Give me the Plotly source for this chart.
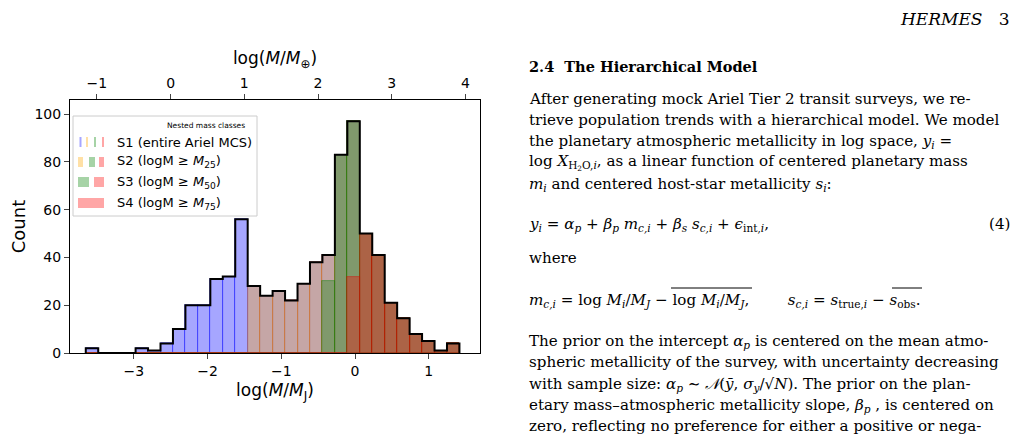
import plotly.graph_objects as go

# ---- data ----
x_start = -3.653
bin_w = 0.169
s1 = [2,0,0,0,2,1,4,10,20,20,31,32,56,28,24,26,22,29,38,41,83,97,50,41,21,14.5,8,5,1,4]
s2 = [0]*13 + [28,24,26,22,29,38,41,83,97,50,41,21,14.5,8,5,1,4]
s3 = [0]*19 + [30,83,97,50,41,21,14.5,8,5,1,4]
s4 = [0]*21 + [32,50,41,21,14.5,8,5,1,4]
MJ_ME = 2.502  # log10(M_J / M_earth)
x_ticks = [-3,-2,-1,0,1]
top_ticks = [-1,0,1,2,3,4]

n = len(s1)
centers = [x_start + bin_w*(i+0.5) for i in range(n)]
edges = [x_start + bin_w*i for i in range(n+1)]

W, H, OFF = 1011, 427, 8
def px(x): return (x-OFF)/W
def py(y): return 1-(y-OFF)/H

fig = go.Figure()
series = [(s1,'rgba(0,0,255,0.35)','rgba(0,0,255,0.5)'),
          (s2,'rgba(255,165,0,0.35)','rgba(255,140,0,0.5)'),
          (s3,'rgba(0,128,0,0.35)','rgba(0,128,0,0.5)'),
          (s4,'rgba(255,0,0,0.35)','rgba(220,0,0,0.5)')]
for vals, col, lc in series:
    fig.add_trace(go.Bar(x=centers, y=vals, width=bin_w, marker=dict(color=col, line=dict(color=lc, width=0.8)),
                         showlegend=False, hoverinfo='skip'))
sx, sy = [edges[0]], [0]
for i in range(n):
    sx += [edges[i], edges[i+1]]
    sy += [s1[i], s1[i]]
sx.append(edges[-1]); sy.append(0)
fig.add_trace(go.Scatter(x=sx, y=sy, mode='lines', line=dict(color='black', width=2), showlegend=False, hoverinfo='skip'))
fig.add_trace(go.Scatter(x=[0], y=[0], xaxis='x2', mode='markers', marker=dict(opacity=0), showlegend=False, hoverinfo='skip'))

xr = [-3.867, 1.696]
fig.update_layout(
    width=W, height=H, margin=dict(l=0,r=0,t=0,b=0),
    paper_bgcolor='white', plot_bgcolor='white', barmode='overlay', bargap=0,
    font=dict(family='DejaVu Sans', color='black'),
    xaxis=dict(domain=[px(70), px(480)], range=xr, tickvals=x_ticks, ticktext=['\u22123','\u22122','\u22121','0','1'], automargin=False,
               ticks='outside', ticklen=5, showgrid=False, zeroline=False, showline=True, linecolor='black', mirror=True,
               tickfont=dict(size=14),
               title=dict(text='log(<i>M</i>/<i>M</i><sub>J</sub>)', font=dict(size=17), standoff=6)),
    xaxis2=dict(overlaying='x', side='top', range=[xr[0]+MJ_ME, xr[1]+MJ_ME], tickvals=top_ticks, automargin=False,
                ticktext=['\u22121','0','1','2','3','4'], ticks='outside', ticklen=5, showgrid=False, zeroline=False,
                tickfont=dict(size=14), anchor='y',
                title=dict(text='log(<i>M</i>/<i>M</i><sub>\u2295</sub>)', font=dict(size=17), standoff=6)),
    yaxis=dict(domain=[py(353), py(100)], range=[0, 105.9], tickvals=[0,20,40,60,80,100], ticks='outside', ticklen=5,
               showgrid=False, zeroline=False, showline=True, linecolor='black', mirror=True, tickfont=dict(size=14),
               automargin=False, title=dict(text='Count', font=dict(size=18), standoff=4)),
)

shapes = [dict(type='rect', xref='paper', yref='paper', x0=px(73), x1=px(257), y0=py(216), y1=py(116),
               line=dict(color='#cccccc', width=1), fillcolor='rgba(255,255,255,0.85)', layer='above')]
lb = 'rgba(0,0,255,0.35)'; lo='rgba(255,165,0,0.35)'; lg='rgba(0,128,0,0.35)'; lr='rgba(255,0,0,0.35)'
patches = [(142, [(79.5,81.5,lb),(86,88,lo),(94,96,lg),(102,104,lr)]),
           (162, [(78,83,lo),(89,95,lg),(99,104,lr)]),
           (182, [(78,89,lg),(94,104,lr)]),
           (203, [(78,104,lr)])]
for yc, segs in patches:
    for x0, x1, c in segs:
        shapes.append(dict(type='rect', xref='paper', yref='paper', x0=px(x0), x1=px(x1), y0=py(yc+5), y1=py(yc-5),
                           line=dict(width=0), fillcolor=c, layer='above'))
# overlines in equation
for x0, x1 in [(671, 752), (892, 922)]:
    shapes.append(dict(type='line', xref='paper', yref='paper', x0=px(x0), x1=px(x1), y0=py(288), y1=py(288),
                       line=dict(color='black', width=1)))
labels = ['S1 (entire Ariel MCS)', 'S2 (logM \u2265 <i>M</i><sub>25</sub>)', 'S3 (logM \u2265 <i>M</i><sub>50</sub>)', 'S4 (logM \u2265 <i>M</i><sub>75</sub>)']
ann = [dict(x=px(165), y=py(125), xref='paper', yref='paper', text='Nested mass classes', showarrow=False,
            yanchor='middle', font=dict(size=7.5))]
for (yc, _), t in zip(patches, labels):
    ann.append(dict(x=px(115), y=py(yc), xref='paper', yref='paper', text=t, showarrow=False, xanchor='left',
                    yanchor='middle', font=dict(size=13)))

serif = 'DejaVu Serif'
def T(x, y, t, size=15.1, anchor='left', **kw):
    ann.append(dict(x=px(x), y=py(y), xref='paper', yref='paper', text=t, showarrow=False, xanchor=anchor, yanchor='middle',
                    font=dict(family=serif, size=size, color='black'), **kw))
T(1012, 19, '<i>HERMES</i>   3', size=17, anchor='right')
T(527, 67, '<b>2.4  The Hierarchical Model</b>', size=14.5)
lines = [(99,'After generating mock Ariel Tier 2 transit surveys, we re-'),
         (120,'trieve population trends with a hierarchical model. We model'),
         (141,'the planetary atmospheric metallicity in log space, <i>y<sub>i</sub></i> ='),
         (163,'log <i>X</i><sub>H<sub>2</sub>O,<i>i</i></sub>, as a linear function of centered planetary mass'),
         (184,'<i>m<sub>i</sub></i> and centered host-star metallicity <i>s<sub>i</sub></i>:'),
         (258,'where'),
         (341,'The prior on the intercept <i>\u03b1<sub>p</sub></i> is centered on the mean atmo-'),
         (362,'spheric metallicity of the survey, with uncertainty decreasing'),
         (384,'with sample size: <i>\u03b1<sub>p</sub></i> \u223c <i>\U0001d4a9</i>(<i>\u0233</i>, <i>\u03c3<sub>y</sub></i>/\u221a<i>N</i>). The prior on the plan-'),
         (405,'etary mass\u2013atmospheric metallicity slope, <i>\u03b2<sub>p</sub></i> , is centered on'),
         (426,'zero, reflecting no preference for either a positive or nega-')]
for y, t in lines:
    T(527, y, t)
T(527, 224, '<i>y<sub>i</sub></i> = <i>\u03b1<sub>p</sub></i> + <i>\u03b2<sub>p</sub> m<sub>c,i</sub></i> + <i>\u03b2<sub>s</sub> s<sub>c,i</sub></i> + <i>\u03f5</i><sub>int,<i>i</i></sub>,')
T(1012, 224, '(4)', anchor='right')
T(527, 300, '<i>m<sub>c,i</sub></i> = log <i>M<sub>i</sub></i>/<i>M<sub>J</sub></i> \u2212 log <i>M<sub>i</sub></i>/<i>M<sub>J</sub></i>,        <i>s<sub>c,i</sub></i> = <i>s</i><sub>true,<i>i</i></sub> \u2212 <i>s</i><sub>obs</sub>.')
fig.update_layout(shapes=shapes, annotations=ann)
fig.write_html('out.html')
